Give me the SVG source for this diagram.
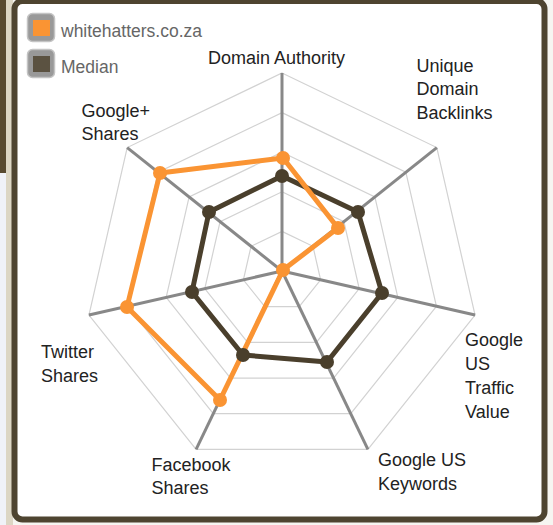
<svg xmlns="http://www.w3.org/2000/svg" width="553" height="525" viewBox="0 0 553 525">
  <style>
    .lbl { font-family: "Liberation Sans", Arial, sans-serif; font-size: 18px; fill: #222; }
    .leg { font-family: "Liberation Sans", Arial, sans-serif; font-size: 17.5px; fill: #666; }
    .ring { fill: none; stroke: #d2d2d2; stroke-width: 1.2; }
    .axis { stroke: #888; stroke-width: 3; }
    .orange { fill: none; stroke: #fa9433; stroke-width: 5; stroke-linejoin: round; }
    .median { fill: none; stroke: #4a3f2c; stroke-width: 5; stroke-linejoin: round; }
    .odot { fill: #fa9433; }
    .mdot { fill: #4a3f2c; }
    .swatch { fill: #999; stroke: #c4c4c4; stroke-width: 1.5; }
  </style>

  <!-- background outside panel -->
  <rect x="0" y="0" width="553" height="525" fill="#f6f5f1"/>
  <rect x="0" y="0" width="6" height="173" fill="#584a30"/>
  <rect x="0" y="173" width="6" height="352" fill="#f0f2f8"/>
  <rect x="6" y="0" width="7" height="525" fill="#dcd6c4"/>

  <!-- panel -->
  <rect id="panel" x="14.5" y="1" width="530" height="518.5" rx="8" fill="#fff" stroke="#4e4430" stroke-width="6"/>

  <!-- legend -->
  <g id="legend-site">
    <rect class="swatch" x="27.5" y="13.5" width="27" height="28" rx="5"/>
    <rect x="33" y="20" width="17" height="16" fill="#fa9433"/>
    <text class="leg" x="61" y="36.5">whitehatters.co.za</text>
  </g>
  <g id="legend-median">
    <rect class="swatch" x="27.5" y="49.5" width="27" height="28" rx="5"/>
    <rect x="33" y="56" width="17" height="16" fill="#5b5241"/>
    <text class="leg" x="61" y="72.5">Median</text>
  </g>

  <!-- grid -->
  <g id="grid" transform="translate(282,271)">
    <polygon class="ring" points="0,-39.6 30.96,-24.69 38.61,8.81 17.18,35.68 -17.18,35.68 -38.61,8.81 -30.96,-24.69"/>
    <polygon class="ring" points="0,-79.2 61.92,-49.38 77.21,17.62 34.36,71.36 -34.36,71.36 -77.21,17.62 -61.92,-49.38"/>
    <polygon class="ring" points="0,-118.8 92.88,-74.07 115.82,26.44 51.55,107.04 -51.55,107.04 -115.82,26.44 -92.88,-74.07"/>
    <polygon class="ring" points="0,-158.4 123.84,-98.76 154.43,35.25 68.73,142.71 -68.73,142.71 -154.43,35.25 -123.84,-98.76"/>
    <polygon class="ring" points="0,-198 154.8,-123.45 193.04,44.06 85.91,178.39 -85.91,178.39 -193.04,44.06 -154.8,-123.45"/>
    <g id="axes">
      <line class="axis" x1="0" y1="0" x2="0" y2="-198"/>
      <line class="axis" x1="0" y1="0" x2="154.8" y2="-123.45"/>
      <line class="axis" x1="0" y1="0" x2="193.04" y2="44.06"/>
      <line class="axis" x1="0" y1="0" x2="85.91" y2="178.39"/>
      <line class="axis" x1="0" y1="0" x2="-85.91" y2="178.39"/>
      <line class="axis" x1="0" y1="0" x2="-193.04" y2="44.06"/>
      <line class="axis" x1="0" y1="0" x2="-154.8" y2="-123.45"/>
    </g>
  </g>

  <!-- axis labels -->
  <g id="label-domain-authority"><text class="lbl" x="208" y="64">Domain Authority</text></g>
  <g id="label-unique-domain-backlinks">
    <text class="lbl" x="416.5" y="72">Unique</text>
    <text class="lbl" x="416.5" y="95.3">Domain</text>
    <text class="lbl" x="416.5" y="118.6">Backlinks</text>
  </g>
  <g id="label-google-us-traffic-value">
    <text class="lbl" x="465" y="346.3">Google</text>
    <text class="lbl" x="465" y="370">US</text>
    <text class="lbl" x="465" y="394">Traffic</text>
    <text class="lbl" x="465" y="418">Value</text>
  </g>
  <g id="label-google-us-keywords">
    <text class="lbl" x="378" y="466">Google US</text>
    <text class="lbl" x="378" y="489.5">Keywords</text>
  </g>
  <g id="label-facebook-shares">
    <text class="lbl" x="151.5" y="470.7">Facebook</text>
    <text class="lbl" x="151.5" y="494">Shares</text>
  </g>
  <g id="label-twitter-shares">
    <text class="lbl" x="41" y="358.3">Twitter</text>
    <text class="lbl" x="41" y="381.7">Shares</text>
  </g>
  <g id="label-google-plus-shares">
    <text class="lbl" x="81.5" y="116.7">Google+</text>
    <text class="lbl" x="81.5" y="139.7">Shares</text>
  </g>

  <!-- series -->
  <g id="connectors">
    <polygon id="median-line" class="median" points="282,176 358,212 382,293 327,362 243,355 192,292 209,212"/>
    <polygon id="site-line" class="orange" points="283,158 338,228 283,270 283,270 220,400 127,307 160,173"/>
  </g>
  <g id="median-points">
    <circle class="mdot" cx="282" cy="176" r="7"/>
    <circle class="mdot" cx="358" cy="212" r="7"/>
    <circle class="mdot" cx="382" cy="293" r="7"/>
    <circle class="mdot" cx="327" cy="362" r="7"/>
    <circle class="mdot" cx="243" cy="355" r="7"/>
    <circle class="mdot" cx="192" cy="292" r="7"/>
    <circle class="mdot" cx="209" cy="212" r="7"/>
  </g>
  <g id="site-points">
    <circle class="odot" cx="283" cy="158" r="7"/>
    <circle class="odot" cx="338" cy="228" r="7"/>
    <circle class="odot" cx="283" cy="270" r="7"/>
    <circle class="odot" cx="220" cy="400" r="7"/>
    <circle class="odot" cx="127" cy="307" r="7"/>
    <circle class="odot" cx="160" cy="173" r="7"/>
  </g>
</svg>
